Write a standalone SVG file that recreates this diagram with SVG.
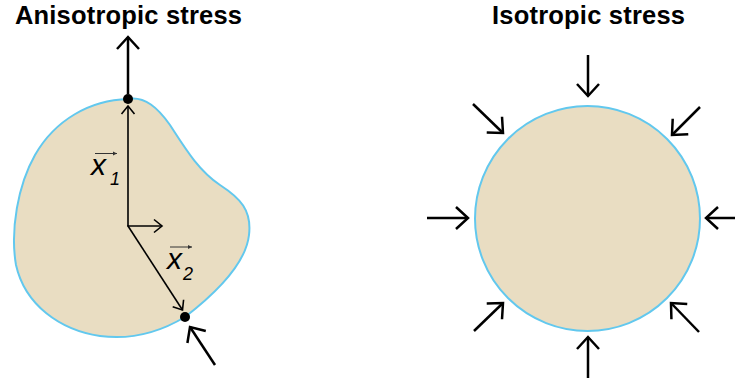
<svg xmlns="http://www.w3.org/2000/svg" width="735" height="382" viewBox="0 0 735 382">
<style>
.title{font-family:"Liberation Sans",Arial,sans-serif;font-weight:bold;font-size:25.5px;fill:#000;text-anchor:middle}
.body{fill:#E9DDC2;stroke:#62C8EE;stroke-width:2}
.force{stroke:#000;stroke-width:2.5;fill:none;marker-end:url(#big)}
.vec{stroke:#000;stroke-width:1.6;fill:none;marker-end:url(#small)}
.lbl{font-family:"Liberation Sans",Arial,sans-serif;font-style:italic;font-size:30px;fill:#000}
.sub{font-family:"Liberation Sans",Arial,sans-serif;font-style:italic;font-size:18px;fill:#000}
.over{stroke:#333;stroke-width:1;fill:none;marker-end:url(#tiny)}
</style>
<defs>
<marker id="big" markerUnits="userSpaceOnUse" markerWidth="30" markerHeight="30" viewBox="-15 -15 30 30" refX="0" refY="0" orient="auto" overflow="visible">
<path d="M-12,-11 L0,0 L-12,11" fill="none" stroke="#000" stroke-width="2.5"/>
</marker>
<marker id="small" markerUnits="userSpaceOnUse" markerWidth="20" markerHeight="20" viewBox="-10 -10 20 20" refX="0" refY="0" orient="auto" overflow="visible">
<path d="M-8,-6.5 L0,0 L-8,6.5" fill="none" stroke="#000" stroke-width="1.6"/>
</marker>
<marker id="tiny" markerUnits="userSpaceOnUse" markerWidth="8" markerHeight="8" viewBox="-4 -4 8 8" refX="0" refY="0" orient="auto" overflow="visible">
<path d="M-4,-2 L0,0 L-4,2 Z" fill="#333"/>
</marker>
</defs>

<g id="anisotropic">
<text class="title" x="128.5" y="23.5" textLength="227" lengthAdjust="spacing">Anisotropic stress</text>
<path id="blob" class="body" d="M128,99 C145,96 158,108 170,125 C185,148 198,170 220,185 C240,198 252,210 249,235 C246,262 220,290 185,317 C160,332 130,340 100,336 C60,330 25,305 16,265 C10,230 18,185 35,155 C55,120 90,100 128,99 Z"/>
<circle id="dot-top" cx="128" cy="99" r="5" fill="#000"/>
<circle id="dot-bottom" cx="185" cy="317" r="5" fill="#000"/>
<g id="label-x1">
<text class="lbl" x="91" y="174.5">x</text>
<text class="sub" x="110" y="185">1</text>
<line class="over" x1="95" y1="153.5" x2="117" y2="153.5"/>
</g>
<g id="label-x2">
<text class="lbl" x="167" y="268.5">x</text>
<text class="sub" x="183" y="280">2</text>
<line class="over" x1="170" y1="247" x2="192" y2="247"/>
</g>
</g>

<g id="isotropic">
<text class="title" x="588.5" y="23.5" textLength="193" lengthAdjust="spacing">Isotropic stress</text>
<circle id="sphere" class="body" cx="587.5" cy="218.5" r="112.5"/>
</g>

<g id="connectors">
<line class="force" x1="128" y1="94" x2="128" y2="37"/>
<line class="force" x1="215" y1="365" x2="190" y2="327"/>
<line class="vec" x1="128" y1="226" x2="128" y2="106"/>
<line class="vec" x1="127.2" y1="226" x2="162" y2="226"/>
<line class="vec" x1="128" y1="226" x2="182.5" y2="310"/>
<line class="force" x1="588" y1="55" x2="588" y2="96"/>
<line class="force" x1="588" y1="378" x2="588" y2="337"/>
<line class="force" x1="427" y1="218" x2="468" y2="218"/>
<line class="force" x1="735" y1="218" x2="706" y2="218"/>
<line class="force" x1="473" y1="104" x2="503" y2="133"/>
<line class="force" x1="700" y1="107" x2="672" y2="135"/>
<line class="force" x1="474" y1="331" x2="503" y2="303"/>
<line class="force" x1="699" y1="332" x2="671" y2="303"/>
</g>
</svg>
